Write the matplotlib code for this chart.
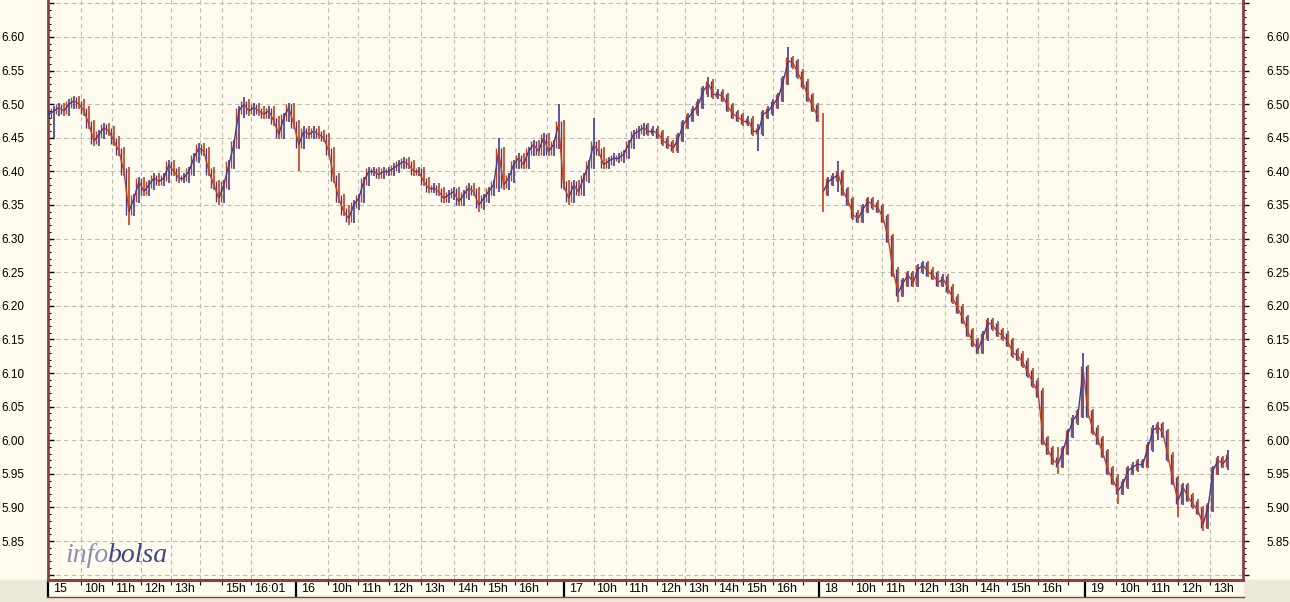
import matplotlib
matplotlib.use("Agg")
import matplotlib.pyplot as plt
from matplotlib.collections import LineCollection
from matplotlib.patches import Rectangle
from matplotlib.lines import Line2D
import numpy as np

# closing prices, one reading per bar (15th .. 19th, intraday)
day15 = [6.485, 6.49, 6.495, 6.49, 6.50, 6.505, 6.50, 6.49, 6.47, 6.445,
         6.455, 6.465, 6.46, 6.445, 6.43, 6.40, 6.34, 6.36, 6.385, 6.37,
         6.38, 6.39, 6.385, 6.39, 6.41, 6.40, 6.39, 6.39, 6.40, 6.42,
         6.435, 6.43, 6.40, 6.38, 6.36, 6.38, 6.41, 6.44, 6.49, 6.50,
         6.49, 6.495, 6.49, 6.485, 6.49, 6.475, 6.455, 6.48, 6.495, 6.47]
day16 = [6.44, 6.46, 6.455, 6.46, 6.455, 6.45, 6.43, 6.39, 6.36, 6.34,
         6.33, 6.35, 6.36, 6.385, 6.40, 6.40, 6.395, 6.40, 6.40, 6.405,
         6.41, 6.415, 6.41, 6.40, 6.40, 6.385, 6.375, 6.375, 6.37, 6.36,
         6.365, 6.37, 6.355, 6.365, 6.375, 6.37, 6.35, 6.36, 6.37, 6.38,
         6.43, 6.38, 6.39, 6.41, 6.42, 6.41, 6.43, 6.44, 6.43, 6.45,
         6.43, 6.44, 6.47]
day17 = [6.38, 6.36, 6.38, 6.37, 6.39, 6.41, 6.44, 6.43, 6.41, 6.415,
         6.42, 6.42, 6.425, 6.44, 6.455, 6.46, 6.465, 6.46, 6.46, 6.455,
         6.445, 6.44, 6.435, 6.45, 6.47, 6.48, 6.49, 6.50, 6.52, 6.53,
         6.515, 6.515, 6.51, 6.495, 6.485, 6.48, 6.475, 6.475, 6.46, 6.46,
         6.485, 6.49, 6.50, 6.51, 6.535, 6.565, 6.56, 6.545, 6.53, 6.51,
         6.495, 6.48]
day18 = [6.37, 6.385, 6.39, 6.395, 6.37, 6.355, 6.335, 6.33, 6.345, 6.355,
         6.35, 6.345, 6.33, 6.30, 6.25, 6.22, 6.235, 6.245, 6.235, 6.255,
         6.26, 6.25, 6.245, 6.235, 6.24, 6.225, 6.21, 6.195, 6.18, 6.16,
         6.145, 6.135, 6.155, 6.175, 6.17, 6.16, 6.155, 6.145, 6.13, 6.125,
         6.115, 6.10, 6.085, 6.07, 6.00, 5.985, 5.97, 5.965, 5.985, 6.01,
         6.03, 6.04, 6.105]
day19 = [6.04, 6.015, 6.00, 5.98, 5.955, 5.94, 5.925, 5.935, 5.955, 5.96,
         5.965, 5.965, 5.99, 6.015, 6.02, 6.01, 5.975, 5.94, 5.91, 5.93,
         5.915, 5.905, 5.895, 5.875, 5.90, 5.955, 5.97, 5.965, 5.975]

close = np.array(day15 + day16 + day17 + day18 + day19)

# intraday extremes that stick out of the line (bar index, low, high)
spike_idx = [1, 16, 34, 39, 50, 60, 86, 90, 102, 104, 109, 132, 142, 148,
             155, 158, 170, 202, 207, 214, 222, 226, 231, 236]
spike_lo = [6.45, 6.32, 6.35, 6.48, 6.40, 6.32, 6.34, 6.37, 6.45, 6.35,
            6.42, 6.51, 6.43, 6.53, 6.34, 6.37, 6.205, 5.95, 6.05, 5.905,
            6.00, 5.885, 5.865, 5.955]
spike_hi = [6.495, 6.36, 6.38, 6.51, 6.47, 6.35, 6.37, 6.45, 6.50, 6.38,
            6.48, 6.54, 6.47, 6.585, 6.38, 6.415, 6.24, 5.99, 6.13, 5.95,
            6.025, 5.93, 5.89, 5.985]

# session boundaries (bar index) and hour marks
day_pos = [-0.2, 49.4, 103, 154.2, 207.4]
day_lbl = ['15', '16', '17', '18', '19']
hour_pos = [6.4, 12.6, 18.4, 24.4, 34.6, 40.4,
            55.8, 61.8, 68.0, 74.4, 81.0, 87.0, 93.2,
            109.0, 115.4, 121.8, 127.4, 133.4, 139.0, 145.0,
            160.8, 166.8, 173.4, 179.4, 185.6, 191.8, 198.0,
            213.6, 219.8, 226.0, 232.4]
hour_lbl = ['10h', '11h', '12h', '13h', '15h', '16:01',
            '10h', '11h', '12h', '13h', '14h', '15h', '16h',
            '10h', '11h', '12h', '13h', '14h', '15h', '16h',
            '10h', '11h', '12h', '13h', '14h', '15h', '16h',
            '10h', '11h', '12h', '13h']
blank_pos = [30.2, 99.6, 151.0, 204.0]

BG = '#FFFCEF'
GRAY = '#ECE9D8'
SPINE = '#8E4040'
UP = '#3D3F8F'
DOWN = '#C4401A'

plt.rcParams['font.family'] = ['Liberation Sans', 'DejaVu Sans']

fig = plt.figure(figsize=(12.9, 6.02), dpi=100, facecolor=BG)
ax = fig.add_axes([48 / 1290, 22 / 602, 1195 / 1290, 580 / 602])
ax.set_facecolor(BG)

n = len(close)
x = np.arange(n)
prev = np.r_[close[0], close[:-1]]
lo = np.minimum(prev, close) - 0.007
hi = np.maximum(prev, close) + 0.007
for i, l, h in zip(spike_idx, spike_lo, spike_hi):
    lo[i] = min(lo[i], l)
    hi[i] = max(hi[i], h)
cols = [UP if c >= p else DOWN for c, p in zip(close, prev)]
ax.vlines(x, lo, hi, colors=cols, lw=1.2, zorder=3)

# in-between bars, spanning the move from one reading to the next
mid_lo = np.minimum(prev, close)[1:] - 0.005
mid_hi = np.maximum(prev, close)[1:] + 0.005
mid_col = [DOWN if c >= p else UP for c, p in zip(close[1:], prev[1:])]
keep = np.arange(1, n) != 155
ax.vlines((x[1:] - 0.5)[keep], mid_lo[keep], mid_hi[keep],
          colors=np.array(mid_col)[keep], lw=1.0, zorder=3)

segs, scol = [], []
for i in range(1, n):
    if i == 155:
        continue
    segs.append([(i - 1, close[i - 1]), (i, close[i])])
    scol.append(UP if close[i] >= close[i - 1] else DOWN)
ax.add_collection(LineCollection(segs, colors=scol, lw=1.0, zorder=3))

ax.set_xlim(-0.2, 239)
ax.set_ylim(5.792, 6.655)

# y axis, left and right
yt = np.round(np.arange(5.80, 6.66, 0.05), 2)
ylab = ['%.2f' % v if 5.84 < v < 6.61 else '' for v in yt]
ax.set_yticks(yt)
ax.set_yticklabels(ylab)
ax.set_yticks(np.arange(5.80, 6.655, 0.01), minor=True)
ax.tick_params(axis='y', which='major', direction='in', length=4, width=1,
               color='black', labelsize=8.5, pad=17)
ax.tick_params(axis='y', which='minor', direction='in', length=2.5, width=0.8,
               color='black')

ax2 = ax.twinx()
ax2.set_ylim(ax.get_ylim())
ax2.set_yticks(yt)
ax2.set_yticklabels(ylab)
ax2.set_yticks(np.arange(5.80, 6.655, 0.01), minor=True)
ax2.tick_params(axis='y', which='major', direction='out', length=4, width=1,
                color='black', labelsize=8.5, pad=13)
ax2.tick_params(axis='y', which='minor', direction='out', length=2.5, width=0.8,
                color='black')

for a in (ax, ax2):
    for s in a.spines.values():
        s.set_visible(False)
ax.spines['left'].set_visible(True)
ax.spines['left'].set_color(SPINE)
ax.spines['left'].set_linewidth(2)
ax.spines['bottom'].set_visible(True)
ax.spines['bottom'].set_color(SPINE)
ax.spines['bottom'].set_linewidth(2.2)
ax2.spines['right'].set_visible(True)
ax2.spines['right'].set_color(SPINE)
ax2.spines['right'].set_linewidth(2)

# x axis: hour ticks, grid
ax.set_xticks(hour_pos + blank_pos)
ax.set_xticklabels([])
ax.tick_params(axis='x', direction='out', length=3.5, width=0.8, color='black')
ax.grid(True, which='major', color='#BDBDB2', linestyle=(0, (4, 3)), lw=0.8)
ax.set_axisbelow(True)

tr = ax.get_xaxis_transform()
ycen = -8.5 / 580
for p, t in zip(hour_pos, hour_lbl):
    ax.text(p + 0.6, ycen, t, transform=tr, ha='left', va='center', fontsize=9)
for p, t in zip(day_pos, day_lbl):
    ax.text(p + 1.0, ycen, t, transform=tr, ha='left', va='center', fontsize=9)
ax.vlines(day_pos, -17 / 580, 0, transform=tr, colors='black', lw=1.6,
          clip_on=False)

# bottom band
fig.add_artist(Rectangle((0, 0), 1, 5 / 602, transform=fig.transFigure,
                         color=GRAY, zorder=0))
fig.add_artist(Rectangle((0, 5 / 602), 47 / 1290, 17 / 602,
                         transform=fig.transFigure, color=GRAY, zorder=0))
fig.add_artist(Rectangle((1244 / 1290, 5 / 602), 46 / 1290, 17 / 602,
                         transform=fig.transFigure, color=GRAY, zorder=0))
fig.add_artist(Line2D([47 / 1290, 1244 / 1290], [5.5 / 602, 5.5 / 602],
                      transform=fig.transFigure, color=SPINE, lw=1))

# logo
t1 = fig.text(65 / 1290, 40 / 602, 'info', fontsize=20, style='italic',
              family='Liberation Serif', color='#8C90B8')
fig.canvas.draw()
bb = t1.get_window_extent()
fig.text(bb.x1 / 1290, 40 / 602, 'bolsa', fontsize=20, style='italic',
         family='Liberation Serif', color='#3B4785')

fig.savefig('out.png', dpi=100, facecolor=BG)
